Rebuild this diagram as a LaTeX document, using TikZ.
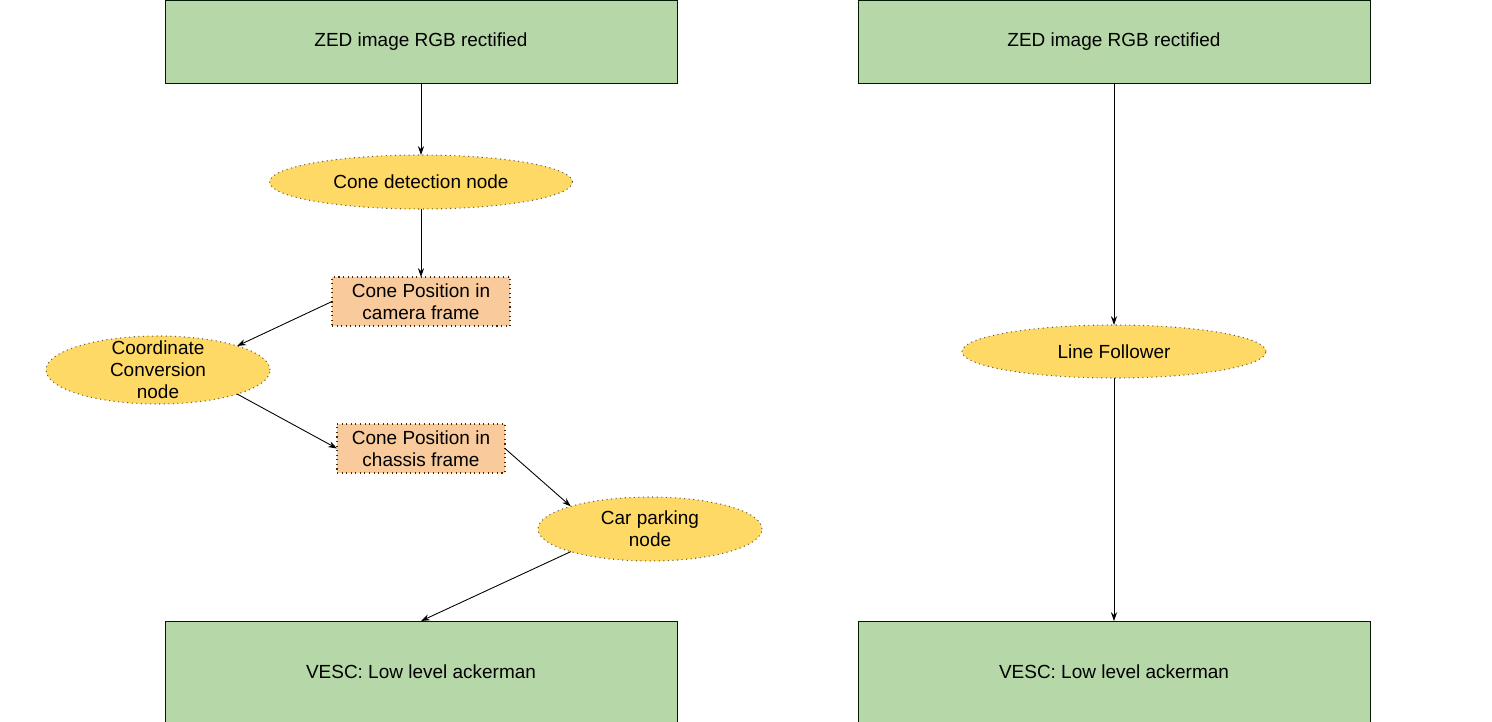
\documentclass[tikz,border=0pt]{standalone}
\usepackage{fontspec}
\setmainfont{Liberation Sans}
\usepackage{tikz}
\usetikzlibrary{shapes.geometric,arrows.meta}

\definecolor{boxgreen}{HTML}{B6D7A8}
\definecolor{ovalyellow}{HTML}{FFD966}
\definecolor{boxorange}{HTML}{F9CB9C}

\begin{document}
\begin{tikzpicture}[-{Stealth[length=5pt,width=3.5pt]},line width=0.5pt,
    every node/.style={font=\fontsize{10.8}{12.5}\selectfont,align=center,outer sep=0pt},
    green node/.style={rectangle,draw=black!90!green,line width=0.55pt,fill=boxgreen,minimum width=10.24cm,inner sep=2pt},
    oval node/.style={ellipse,draw=black!70!yellow,dotted,line width=0.6pt,fill=ovalyellow,inner sep=0pt},
    box node/.style={rectangle,draw=black!70!orange,dotted,line width=0.6pt,fill=boxorange,minimum height=0.98cm,inner sep=1pt}]
    \useasboundingbox (0,0) rectangle (29.84,-14.44);

    % left: cone parking
    \node[green node,minimum height=1.66cm] (1) at (8.42,-0.83) {ZED image RGB rectified};
    \node[oval node,minimum width=6.06cm,minimum height=1.08cm] (2) [below of=1,node distance=2.81cm] {Cone detection node};
    \node[box node,minimum width=3.56cm] (3) [below of=2,node distance=2.39cm] {Cone Position in\\camera frame};
    \node[oval node,minimum width=4.48cm,minimum height=1.36cm,
          label={[align=center]center:Coordinate\\Conversion\\node}] (4) [below of=3,node distance=1.37cm,xshift=-5.26cm] {};
    \node[box node,minimum width=3.36cm] (5) [below of=3,node distance=2.94cm] {Cone Position in\\chassis frame};
    \node[oval node,minimum width=4.48cm,minimum height=1.28cm] (6) [below of=5,node distance=1.61cm,xshift=4.58cm] {Car parking\\node};
    \node[green node,minimum height=2.02cm] (7) [below of=1,node distance=12.6cm] {VESC: Low level ackerman};

    % right: line follower
    \node[green node,minimum height=1.66cm] (8) [right of=1,node distance=13.86cm] {ZED image RGB rectified};
    \node[oval node,minimum width=6.08cm,minimum height=1.06cm] (9) [below of=8,node distance=6.2cm] {Line Follower};
    \node[green node,minimum height=2.02cm] (10) [below of=8,node distance=12.6cm] {VESC: Low level ackerman};

    \path
        (1) edge (2)
        (2) edge (3)
        (3.west) edge (4.north east)
        (4.south east) edge (5.west)
        (5.east) edge (6.north west)
        (6.south west) edge (7.north)
        (8) edge (9)
        (9) edge (10);

\end{tikzpicture}
\end{document}
